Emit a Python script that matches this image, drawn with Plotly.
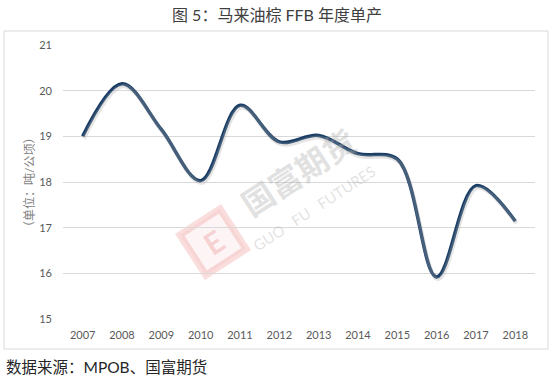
import math
import plotly.graph_objects as go

years = ["2007", "2008", "2009", "2010", "2011", "2012", "2013", "2014", "2015", "2016", "2017", "2018"]
yield_ffb = [19.0, 20.15, 19.15, 18.03, 19.68, 18.88, 19.02, 18.62, 18.5, 15.92, 17.92, 17.14]
y_ticks = [15, 16, 17, 18, 19, 20, 21]

W, H = 554, 382
L, R, T, B = 63, 19, 45, 63
pw, ph = W - L - R, H - T - B

def px(x):
    return (x - L) / pw

def py(y):
    return (H - B - y) / ph

def rot_square(cx, cy, half, ang_deg):
    a = math.radians(ang_deg)
    pts = []
    for dx, dy in [(-half, -half), (half, -half), (half, half), (-half, half)]:
        rx = cx + dx * math.cos(a) - dy * math.sin(a)
        ry = cy + dx * math.sin(a) + dy * math.cos(a)
        pts.append((px(rx), py(ry)))
    return "M " + " L ".join(f"{x:.4f},{y:.4f}" for x, y in pts) + " Z"

fig = go.Figure()

# soft shadow line on an overlaid, slightly shifted axis pair
fig.add_trace(go.Scatter(
    x=years, y=yield_ffb, mode="lines", xaxis="x2", yaxis="y2",
    line=dict(color="rgba(170,170,170,0.30)", width=4, shape="spline", smoothing=1.0),
    hoverinfo="skip", showlegend=False))

fig.add_trace(go.Scatter(
    x=years, y=yield_ffb, mode="lines",
    line=dict(color="#1A3E66", width=3.5, shape="spline", smoothing=1.0),
    showlegend=False))

font_lat = "Lato, 'Noto Sans CJK SC', sans-serif"

fig.update_layout(
    width=W, height=H,
    margin=dict(l=L, r=R, t=T, b=B),
    paper_bgcolor="white", plot_bgcolor="white",
    font=dict(family=font_lat, color="#595959", size=11),
    xaxis=dict(type="category", range=[-0.5, 11.5], showgrid=False, zeroline=False,
               showline=False, ticks="", ticklabelstandoff=8,
               tickfont=dict(size=11, color="#595959")),
    yaxis=dict(range=[15, 21], tickvals=y_ticks, showgrid=True, gridcolor="#D9D9D9",
               gridwidth=1, zeroline=False, showline=False, ticks="",
               ticklabelstandoff=10, tickfont=dict(size=11, color="#595959")),
    xaxis2=dict(type="category", overlaying="x", range=[-0.53, 11.47], visible=False),
    yaxis2=dict(overlaying="y", range=[15.05, 21.05], visible=False),
    shapes=[
        dict(type="rect", xref="paper", yref="paper",
             x0=px(4), x1=px(548), y0=py(349), y1=py(31),
             line=dict(color="#D9D9D9", width=1), fillcolor="rgba(0,0,0,0)", layer="below"),
        dict(type="path", xref="paper", yref="paper", path=rot_square(213, 242, 24, -33),
             line=dict(color="rgba(235,120,120,0.25)", width=7),
             fillcolor="rgba(245,200,200,0.18)", layer="below"),
    ],
    annotations=[
        dict(text="图 5：马来油棕 FFB 年度单产", xref="paper", yref="paper", x=px(277), y=py(14),
             showarrow=False, xanchor="center", yanchor="middle",
             font=dict(size=16, color="#404040", family=font_lat)),
        dict(text="（单位：吨/公顷）", xref="paper", yref="paper", x=px(30), y=py(183),
             textangle=-90, showarrow=False, xanchor="center", yanchor="middle",
             font=dict(size=12, color="#7F7F7F", family=font_lat)),
        dict(text="数据来源：MPOB、国富期货", xref="paper", yref="paper", x=px(4), y=py(367),
             showarrow=False, xanchor="left", yanchor="middle",
             font=dict(size=15.5, color="#262626", family=font_lat)),
        # watermark
        dict(text="<b>国富期货</b>", xref="paper", yref="paper", x=px(298), y=py(172),
             textangle=-33, showarrow=False, xanchor="center", yanchor="middle",
             font=dict(size=32, color="rgba(170,170,170,0.35)", family=font_lat)),
        dict(text="GUO   FU   FUTURES", xref="paper", yref="paper", x=px(314), y=py(208),
             textangle=-33, showarrow=False, xanchor="center", yanchor="middle",
             font=dict(size=15, color="rgba(170,170,170,0.35)", family=font_lat)),
        dict(text="<b>E</b>", xref="paper", yref="paper", x=px(213), y=py(242),
             textangle=-33, showarrow=False, xanchor="center", yanchor="middle",
             font=dict(size=30, color="rgba(230,120,120,0.30)", family=font_lat)),
    ],
)

fig.write_html("out.html", config={"displayModeBar": False},
               post_script="document.body.style.margin='0px';")
